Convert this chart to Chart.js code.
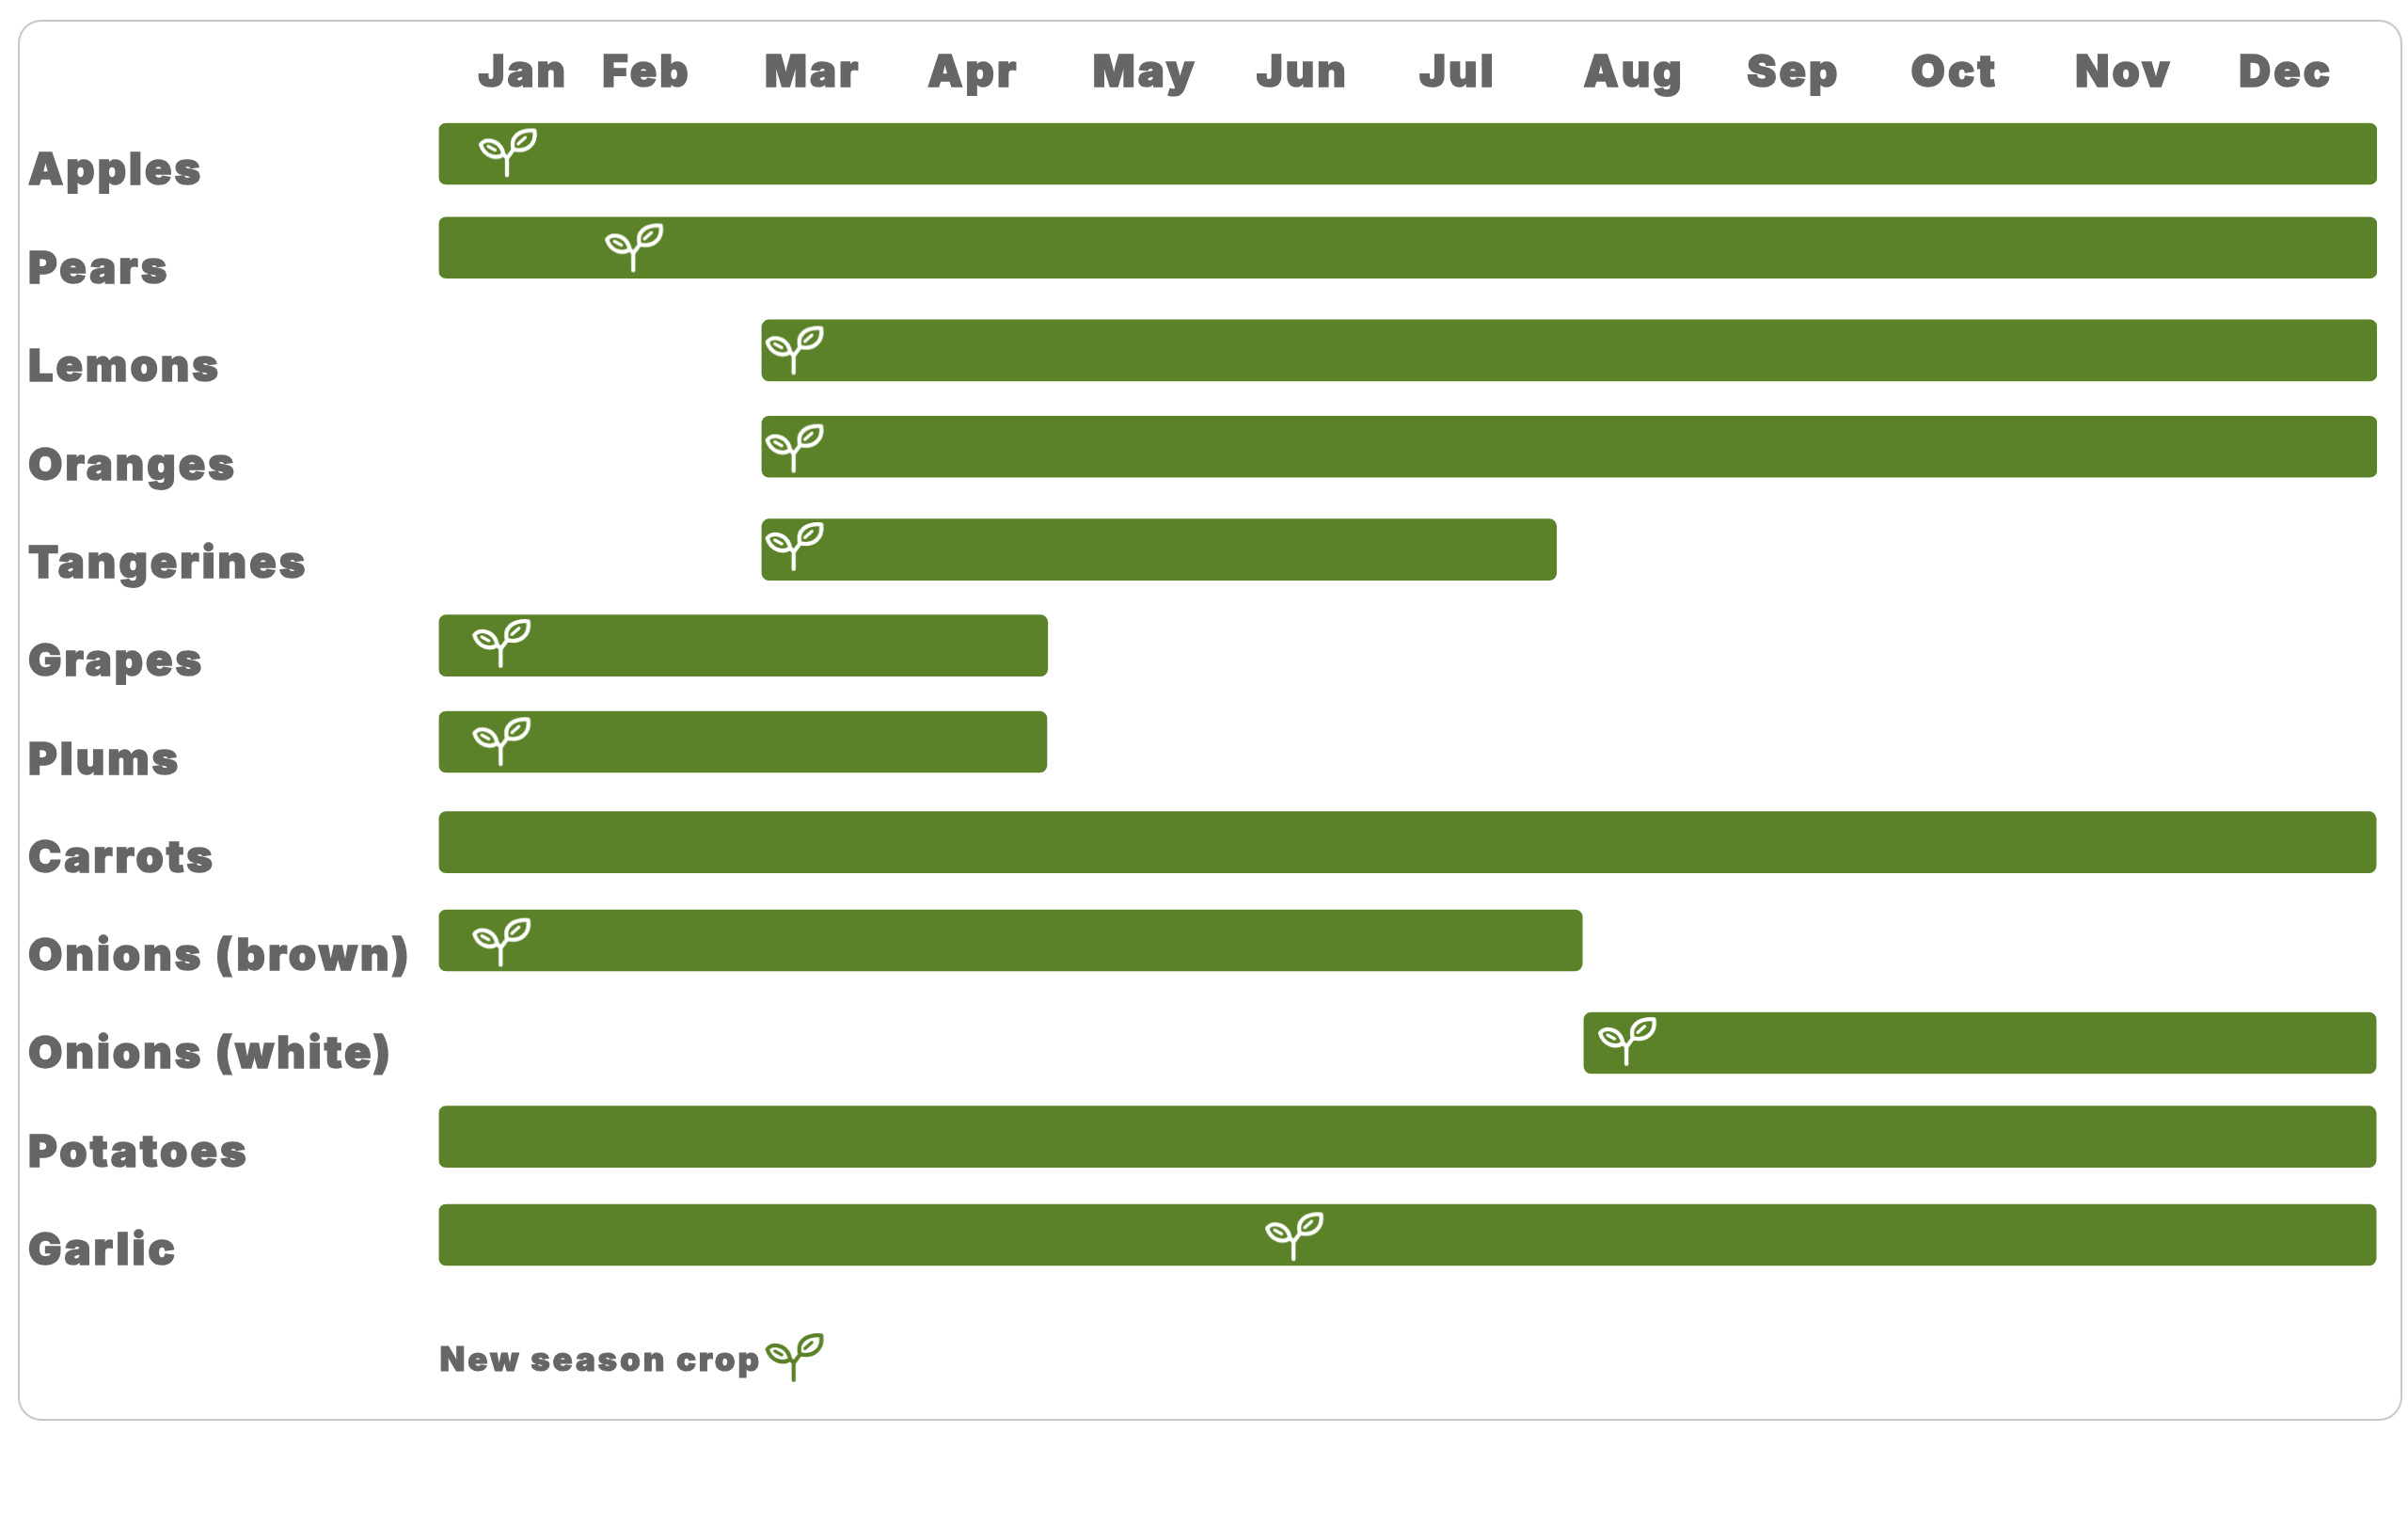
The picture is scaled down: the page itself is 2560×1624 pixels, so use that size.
<!DOCTYPE html>
<html>
<head>
<meta charset="utf-8">
<style>html,body{margin:0;padding:0;background:#fff}canvas{display:block}</style>
<script src="https://cdn.jsdelivr.net/npm/chart.js@4"></script>
</head>
<body>
<canvas id="c" width="2560" height="1624" style="width:2560px;height:1624px"></canvas>
<script>
const months = ['Jan','Feb','Mar','Apr','May','Jun','Jul','Aug','Sep','Oct','Nov','Dec'];
const monthTickAt = [0.244,1.012,2.018,3.027,4.049,5.062,6.072,7.087,8.099,9.114,10.132,11.145];
const crops = ['Apples','Pears','Lemons','Oranges','Tangerines','Grapes','Plums','Carrots','Onions (brown)','Onions (white)','Potatoes','Garlic'];
const cropRows = [0.02,1.03,2.03,3.03,4.03,5.03,6.03,7.03,8.03,9.03,10.03,11.03];
const seasonStart = [0,0,2,2,2,0,0,0,0,7.09,0,0];
const seasonEnd = [12,12,12,12,6.92,3.77,3.765,11.995,7.08,11.995,11.995,11.995];
const barRows = [-0.153,0.803,1.850,2.831,3.880,4.858,5.839,6.862,7.862,8.907,9.863,10.863];
const sproutMonth = [0.422,1.204,2.197,2.197,2.197,0.383,0.383,0.383,7.353,5.292];
const sproutRow = [-0.163,0.805,1.850,2.849,3.849,4.837,5.837,7.883,8.893,10.881];
const legendText = 'New season crop';
const legendMonth = [2.197];
const legendRow = [12.114];

const GREEN = '#5b8228', GREY = '#666666', FONT = 'Inter, "Noto Sans", sans-serif';

function sprout(colour){
  const k = document.createElement('canvas'); k.width = 80; k.height = 70;
  const g = k.getContext('2d');
  g.translate(40,35); g.scale(1/3,1/3); g.translate(-130,-113);
  g.strokeStyle = colour; g.lineWidth = 13; g.lineCap = 'round'; g.lineJoin = 'round';
  g.beginPath();
  g.moveTo(46,86); g.bezierCurveTo(62,66,102,70,116,106); g.bezierCurveTo(117,110,118,114,118,118);
  g.bezierCurveTo(100,132,58,128,46,86); g.closePath();
  g.moveTo(218,42); g.bezierCurveTo(180,38,145,55,148,90); g.bezierCurveTo(148,95,149,99,151,102);
  g.bezierCurveTo(195,112,224,85,218,42); g.closePath();
  g.moveTo(130,184); g.lineTo(130,130); g.moveTo(130,130); g.lineTo(118,116); g.moveTo(130,130); g.lineTo(150,103);
  g.stroke();
  g.lineWidth = 10;
  g.beginPath(); g.moveTo(70,92); g.lineTo(92,104); g.moveTo(166,84); g.lineTo(188,64); g.stroke();
  return k;
}

const framePlugin = {
  id:'frame',
  beforeDraw(chart){
    const c = chart.ctx;
    c.save();
    c.strokeStyle = '#c8c8c8'; c.lineWidth = 2;
    c.beginPath(); c.roundRect(20,22,2533,1487,24); c.stroke();
    c.restore();
    c.letterSpacing = '3px';
  },
  afterDraw(chart){
    const c = chart.ctx, x = chart.scales.x, y = chart.scales.y;
    const px = x.getPixelForValue(0)+1, py = y.getPixelForValue(legendRow[0])+14;
    c.save();
    c.fillStyle = GREY; c.strokeStyle = GREY; c.lineWidth = 1;
    c.font = '900 35px ' + FONT; c.letterSpacing = '2.8px';
    c.textAlign = 'left'; c.textBaseline = 'alphabetic';
    c.strokeText(legendText, px, py);
    c.fillText(legendText, px, py);
    c.restore();
  }
};

new Chart(document.getElementById('c'),{
  type:'bar',
  data:{datasets:[
    {type:'bar',indexAxis:'y',order:2,xAxisID:'x',yAxisID:'y',
     data:barRows.map((r,i)=>({x:[seasonStart[i],seasonEnd[i]],y:r})),
     backgroundColor:GREEN,borderWidth:0,borderRadius:8,borderSkipped:false,barThickness:65},
    {type:'scatter',order:1,xAxisID:'x',yAxisID:'y',
     data:sproutMonth.map((m,i)=>({x:m,y:sproutRow[i]})),
     pointStyle:sprout('#ffffff'),pointRadius:30,showLine:false},
    {type:'scatter',order:1,xAxisID:'x',yAxisID:'y',
     data:legendMonth.map((m,i)=>({x:m,y:legendRow[i]})),
     pointStyle:sprout(GREEN),pointRadius:30,showLine:false}
  ]},
  options:{
    responsive:false,animation:false,devicePixelRatio:1,
    layout:{autoPadding:false,padding:{left:30,right:33,top:20,bottom:134}},
    plugins:{legend:{display:false},tooltip:{enabled:false}},
    scales:{
      x:{type:'linear',position:'top',min:0,max:12,offset:false,
         grid:{display:false},border:{display:false},
         afterBuildTicks:s=>{s.ticks=monthTickAt.map(v=>({value:v}));},
         afterFit:s=>{s.height=95;},
         ticks:{autoSkip:false,maxRotation:0,minRotation:0,align:'start',padding:1,color:GREY,
                textStrokeColor:GREY,textStrokeWidth:1.5,
                font:{family:FONT,size:47,weight:'900'},
                callback:(v,i)=>months[i]}},
      y:{type:'linear',position:'left',reverse:true,min:-0.6184,max:12.565,offset:false,
         grid:{display:false},border:{display:false},
         afterBuildTicks:s=>{s.ticks=cropRows.map(v=>({value:v}));},
         afterFit:s=>{s.width=436.5;},
         ticks:{autoSkip:false,crossAlign:'far',padding:0,color:GREY,
                textStrokeColor:GREY,textStrokeWidth:1.5,
                font:{family:FONT,size:47,weight:'900'},
                callback:(v,i)=>crops[i]}}
    }
  },
  plugins:[framePlugin]
});
</script>
</body>
</html>
